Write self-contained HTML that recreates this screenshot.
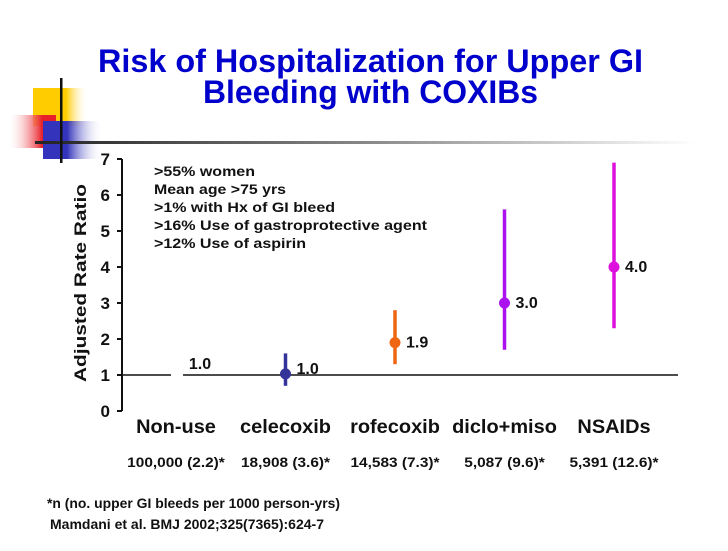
<!DOCTYPE html>
<html><head><meta charset="utf-8"><style>
body{margin:0;width:728px;height:546px;background:#fff;overflow:hidden;font-family:"Liberation Sans",sans-serif;}
svg text{font-family:"Liberation Sans",sans-serif;font-weight:bold;}
</style></head><body>
<svg id="svg" width="728" height="546">
<defs>
<linearGradient id="yel" x1="0" x2="1"><stop offset="0.6" stop-color="#ffcc00"/><stop offset="1" stop-color="#fff" stop-opacity="0"/></linearGradient>
<linearGradient id="red" x1="1" x2="0"><stop offset="0.3" stop-color="#e8202a"/><stop offset="1" stop-color="#fff" stop-opacity="0.2"/></linearGradient>
<linearGradient id="blu" x1="0" x2="1"><stop offset="0.4" stop-color="#3333bb"/><stop offset="1" stop-color="#fff" stop-opacity="0"/></linearGradient>
<linearGradient id="hl" x1="0" x2="1"><stop offset="0" stop-color="#222"/><stop offset="0.5" stop-color="#888"/><stop offset="1" stop-color="#fff"/></linearGradient>
</defs>
<g>
<rect x="33" y="88" width="55" height="38" fill="url(#yel)"/>
<rect x="10" y="115" width="46" height="33" fill="url(#red)"/>
<rect x="43" y="121" width="60" height="38" fill="url(#blu)"/>
<rect x="35" y="141" width="660" height="3" fill="url(#hl)"/>
<rect x="60" y="78" width="2.5" height="85" fill="#111"/>
</g>
<text x="98" y="72" font-size="32" fill="#0000cc" textLength="545" lengthAdjust="spacingAndGlyphs">Risk of Hospitalization for Upper GI</text>
<text x="203" y="103" font-size="32" fill="#0000cc" textLength="335" lengthAdjust="spacingAndGlyphs">Bleeding with COXIBs</text>
<text transform="translate(86,283) rotate(-90)" text-anchor="middle" font-size="17" fill="#111" textLength="198" lengthAdjust="spacingAndGlyphs">Adjusted Rate Ratio</text>
<g font-size="14" fill="#111">
<text x="154" y="176" textLength="101" lengthAdjust="spacingAndGlyphs">&gt;55% women</text>
<text x="154" y="194" textLength="132" lengthAdjust="spacingAndGlyphs">Mean age &gt;75 yrs</text>
<text x="154" y="212" textLength="181" lengthAdjust="spacingAndGlyphs">&gt;1% with Hx of GI bleed</text>
<text x="154" y="230" textLength="273" lengthAdjust="spacingAndGlyphs">&gt;16% Use of gastroprotective agent</text>
<text x="154" y="248" textLength="152" lengthAdjust="spacingAndGlyphs">&gt;12% Use of aspirin</text>
</g>
<g id="chart"></g>
<g font-size="13.5" fill="#111">
<text x="47" y="508" textLength="293" lengthAdjust="spacingAndGlyphs">*n (no. upper GI bleeds per 1000 person-yrs)</text>
<text x="50" y="529" textLength="274" lengthAdjust="spacingAndGlyphs">Mamdani et al. BMJ 2002;325(7365):624-7</text>
</g>
</svg>
<script>
const categories=["Non-use","celecoxib","rofecoxib","diclo+miso","NSAIDs"];
const estimates=[1.0,1.03,1.9,3.0,4.0];
const lowerCI=[null,0.7,1.3,1.7,2.3];
const upperCI=[null,1.6,2.8,5.6,6.9];
const labels=["1.0","1.0","1.9","3.0","4.0"];
const counts=["100,000 (2.2)*","18,908 (3.6)*","14,583 (7.3)*","5,087 (9.6)*","5,391 (12.6)*"];
const colors=["#000","#333399","#ee6611","#aa11ee","#dd11dd"];
const yTicks=[0,1,2,3,4,5,6,7];
const NS="http://www.w3.org/2000/svg";
const g=document.getElementById('chart');
function y(v){return 411-v*36;}
function x(i){return 176+i*109.5;}
function mk(t,a,txt){const e=document.createElementNS(NS,t);for(const k in a)e.setAttribute(k,a[k]);if(txt!==undefined)e.textContent=txt;g.appendChild(e);return e;}
function fit(e,w){e.setAttribute('textLength',w);e.setAttribute('lengthAdjust','spacingAndGlyphs');}
let e=mk('line',{x1:122,x2:122,y1:y(7),y2:y(0),stroke:'#111','stroke-width':2});


yTicks.forEach(t=>{
 let l=mk('line',{x1:117,x2:122,y1:y(t),y2:y(t),stroke:'#111','stroke-width':2});
 
 
 let tx=mk('text',{x:110,y:y(t)+6,'text-anchor':'end','font-size':17,fill:'#111'},t);
 
 
});
e=mk('line',{x1:122,x2:171,y1:y(1),y2:y(1),stroke:'#111','stroke-width':1.5});


e=mk('line',{x1:183,x2:678,y1:y(1),y2:y(1),stroke:'#111','stroke-width':1.5});


categories.forEach((c,i)=>{
 const cx=x(i);
 let t=mk('text',{x:cx,y:433,'text-anchor':'middle','font-size':19,fill:'#111'},c);
 
 
 fit(t,t.getComputedTextLength()*1.05);
 t=mk('text',{x:cx,y:467,'text-anchor':'middle','font-size':14,fill:'#111'},counts[i]);
 
 
 fit(t,t.getComputedTextLength()*1.1);
 if(lowerCI[i]!==null){
  let l=mk('line',{x1:cx,x2:cx,y1:y(upperCI[i]),y2:y(lowerCI[i]),stroke:colors[i],'stroke-width':3.5});
  
  
  let p=mk('circle',{cx:cx,cy:y(estimates[i]),r:5.5,fill:colors[i]});
  
  
  t=mk('text',{x:cx+11,y:y(estimates[i])+5,'font-size':16,fill:'#111'},labels[i]);
  if(i===1) t.setAttribute('y',y(1)-1);
 } else {
  t=mk('text',{x:cx+24,y:y(estimates[i])-6,'text-anchor':'middle','font-size':16,fill:'#111'},labels[i]);
 }
 
 
});
</script>
</body></html>
